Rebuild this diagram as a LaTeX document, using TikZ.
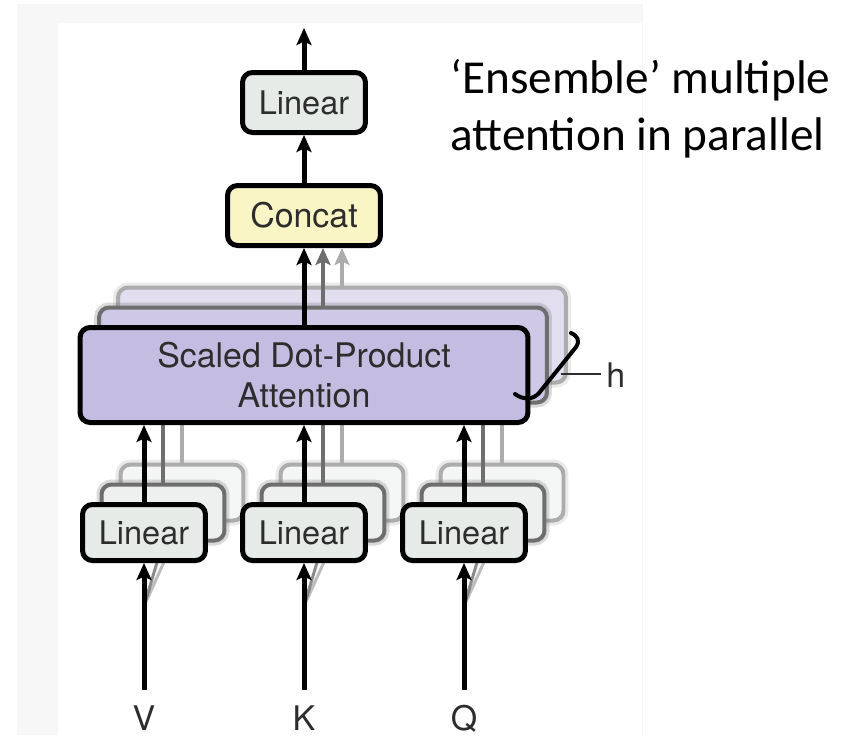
\documentclass[tikz,border=0pt]{standalone}
\usepackage{fontspec}
\setmainfont{TeX Gyre Heros}
\newfontfamily\slidefont{Carlito}
\usetikzlibrary{arrows.meta}

\definecolor{linfill}{RGB}{230,235,232}
\definecolor{catfill}{RGB}{250,245,196}
\definecolor{attfill}{RGB}{197,189,225}
\definecolor{attfillB}{RGB}{207,200,231}
\definecolor{attfillC}{RGB}{226,222,239}
\definecolor{linfillB}{RGB}{237,240,238}
\definecolor{linfillC}{RGB}{244,246,245}
\definecolor{edgeB}{RGB}{110,110,110}
\definecolor{edgeC}{RGB}{172,172,172}
\definecolor{ink}{RGB}{45,45,45}
\definecolor{framegray}{RGB}{247,247,247}

\begin{document}
\begin{tikzpicture}[x=0.02cm, y=-0.02cm,
  boxfont/.style={font=\fontsize{18.5pt}{22.7pt}\selectfont},
  bigfont/.style={font=\fontsize{19.3pt}{22.7pt}\selectfont},
  blk/.style={draw=black, line width=0.1cm, rounded corners=0.2cm, inner sep=0pt, text=ink, boxfont},
  linbox/.style={blk, fill=linfill, minimum width=2.46cm, minimum height=1.2cm},
  smallbox/.style={minimum width=2.46cm, minimum height=1.12cm, inner sep=0pt, rounded corners=0.2cm},
  attbox/.style={minimum width=8.96cm, minimum height=1.9cm, inner sep=0pt, rounded corners=0.2cm},
  softB/.style={draw=edgeB, line width=0.08cm, preaction={draw=edgeB, draw opacity=0.25, line width=0.2cm}},
  softC/.style={draw=edgeC, line width=0.08cm, preaction={draw=edgeC, draw opacity=0.25, line width=0.2cm}},
  tip/.style={-{Stealth[length=0.34cm, width=0.3cm, inset=0.07cm]}},
  arr/.style={tip, draw=black, line width=0.1cm},
  arrB/.style={tip, draw=edgeB, line width=0.09cm},
  arrC/.style={tip, draw=edgeC, line width=0.09cm},
  feedB/.style={draw=edgeB, line width=0.06cm, draw opacity=0.8},
  feedC/.style={draw=edgeC, line width=0.06cm, draw opacity=0.8},
  letter/.style={anchor=base, inner sep=0pt, text=ink, bigfont},
  caption/.style={anchor=base west, inner sep=0pt, text=black, font=\slidefont\fontsize{26.9pt}{32pt}\selectfont}
]
\useasboundingbox (0,0) rectangle (864,735);

% page frame
\fill[framegray] (17,4) rectangle (642,735);
\fill[white] (58,23) rectangle (642,735);
\draw[black!4, line width=0.4pt] (642,4) -- (642,735);

% fixed points of the free line ends
\coordinate (out) at (304,28);
\coordinate (inV) at (144,690);
\coordinate (inK) at (304,690);
\coordinate (inQ) at (464,690);
\coordinate (brV) at (144,606);
\coordinate (brK) at (304,606);
\coordinate (brQ) at (464,606);

% output head
\node[linbox] (lin) at (304,102.5) {Linear};
\node[blk, bigfont, fill=catfill, minimum width=3.06cm, minimum height=1.2cm] (concat) at (304,215.5) {Concat};
\draw[arr] (concat.north) -- (lin.south);
\draw[arr] (lin.north) -- (out);

% third (rearmost) head
\node[attbox, fill=attfillC, softC] (sdpaC) at (342,335) {};
\node[smallbox, fill=linfillC, softC] (lvC) at (182,492.5) {};
\node[smallbox, fill=linfillC, softC] (lkC) at (342,492.5) {};
\node[smallbox, fill=linfillC, softC] (lqC) at (502,492.5) {};
\draw[feedC] (brV) -- (lvC.south);
\draw[feedC] (brK) -- (lkC.south);
\draw[feedC] (brQ) -- (lqC.south);
\draw[arrC] (lvC.north) -- (lvC.north |- sdpaC.south);
\draw[arrC] (lkC.north) -- (lkC.north |- sdpaC.south);
\draw[arrC] (lqC.north) -- (lqC.north |- sdpaC.south);
\draw[arrC] (sdpaC.north) -- (sdpaC.north |- concat.south);

% second head
\node[attbox, fill=attfillB, softB] (sdpaB) at (323,355) {};
\node[smallbox, fill=linfillB, softB] (lvB) at (163,512.5) {};
\node[smallbox, fill=linfillB, softB] (lkB) at (323,512.5) {};
\node[smallbox, fill=linfillB, softB] (lqB) at (483,512.5) {};
\draw[feedB] (brV) -- (lvB.south);
\draw[feedB] (brK) -- (lkB.south);
\draw[feedB] (brQ) -- (lqB.south);
\draw[arrB] (lvB.north) -- (lvB.north |- sdpaB.south);
\draw[arrB] (lkB.north) -- (lkB.north |- sdpaB.south);
\draw[arrB] (lqB.north) -- (lqB.north |- sdpaB.south);
\draw[arrB] (sdpaB.north) -- (sdpaB.north |- concat.south);

% front head
\node[blk, bigfont, fill=attfill, attbox, align=center] (sdpa) at (304,375) {Scaled Dot-Product\\Attention};
\node[linbox, minimum height=1.12cm] (lv) at (144,532.5) {Linear};
\node[linbox, minimum height=1.12cm] (lk) at (304,532.5) {Linear};
\node[linbox, minimum height=1.12cm] (lq) at (464,532.5) {Linear};
\draw[arr] (inV) -- (lv.south);
\draw[arr] (inK) -- (lk.south);
\draw[arr] (inQ) -- (lq.south);
\draw[arr] (lv.north) -- (lv.north |- sdpa.south);
\draw[arr] (lk.north) -- (lk.north |- sdpa.south);
\draw[arr] (lq.north) -- (lq.north |- sdpa.south);
\draw[arr] (sdpa.north) -- (concat.south);

% inputs
\node[letter] (tV) at (144,730) {V};
\node[letter] (tK) at (304,730) {K};
\node[letter] (tQ) at (464,730) {Q};

% number of heads
\draw[black, line width=0.08cm, line cap=round]
  (571,333) .. controls (578,336) and (580,341) .. (576,347)
  -- (539,393) .. controls (533,400) and (523,400) .. (515,394);
\coordinate (tick) at (561,374);
\node[anchor=base west, inner sep=0pt, text=ink, bigfont] (hl) at (606,387) {h};
\draw[ink, line width=0.045cm] (tick) -- ([xshift=-0.1cm]tick -| hl.west);

% side note
\node[caption] (cap1) at (450,93) {‘Ensemble’ multiple};
\node[caption] (cap2) at (450,150) {attention in parallel};
\end{tikzpicture}
\end{document}
